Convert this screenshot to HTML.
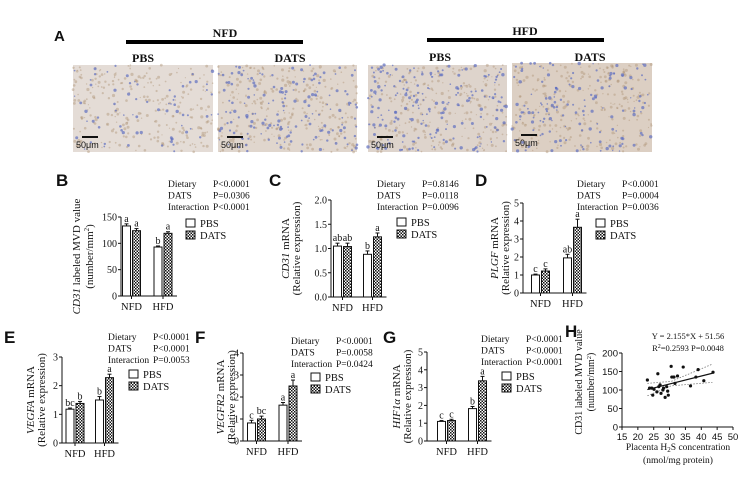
<!DOCTYPE html>
<html><head><meta charset="utf-8"><style>
body{margin:0;background:#fff;}
svg{display:block;}
text{font-family:"Liberation Serif",serif;fill:#111;}
.pl{font-family:"Liberation Sans",sans-serif;font-weight:bold;}
.sans{font-family:"Liberation Sans",sans-serif;}
</style></head><body>
<svg id="fig" width="753" height="478" viewBox="0 0 753 478" xmlns="http://www.w3.org/2000/svg">
<defs>
<pattern id="chk" width="3" height="3" patternUnits="userSpaceOnUse"><rect width="3" height="3" fill="#fff"/><rect width="1.5" height="1.5" fill="#111"/><rect x="1.5" y="1.5" width="1.5" height="1.5" fill="#111"/></pattern>
</defs>
<g id="panelA">
<text class="pl" x="54" y="41" font-size="15">A</text>
<text x="225" y="37" font-size="12" font-weight="bold" text-anchor="middle">NFD</text>
<rect x="126" y="40" width="177" height="4" fill="#000"/>
<text x="525" y="35" font-size="12" font-weight="bold" text-anchor="middle">HFD</text>
<rect x="427" y="38" width="177" height="4" fill="#000"/>
<text x="143" y="62" font-size="12" font-weight="bold" text-anchor="middle">PBS</text>
<text x="290" y="62" font-size="12" font-weight="bold" text-anchor="middle">DATS</text>
<text x="440" y="61" font-size="12" font-weight="bold" text-anchor="middle">PBS</text>
<text x="590" y="61" font-size="12" font-weight="bold" text-anchor="middle">DATS</text>
<g id="imgs"></g>
</g>
<g id="charts"></g>
</svg>
<script>
// ---- chart data ----
const groups = ["NFD", "HFD"];
const seriesNames = ["PBS", "DATS"];
const bVals = [133, 124, 93, 119];  const bErr = [4, 4, 2, 3];  const bLetters = ["a","a","b","a"];
const bTicks = [0, 50, 100, 150];
const cVals = [1.05, 1.04, 0.88, 1.24]; const cErr = [0.06, 0.07, 0.07, 0.08]; const cLetters = ["ab","ab","b","a"];
const cTicks = [0, 0.5, 1.0, 1.5, 2.0];
const dVals = [1.0, 1.22, 1.95, 3.65]; const dErr = [0.05, 0.12, 0.2, 0.45]; const dLetters = ["c","c","ab","a"];
const dTicks = [0, 1, 2, 3, 4, 5];
const eVals = [1.18, 1.38, 1.5, 2.28]; const eErr = [0.04, 0.07, 0.12, 0.12]; const eLetters = ["bc","b","b","a"];
const eTicks = [0, 1, 2, 3];
const fVals = [0.82, 1.0, 1.63, 2.5]; const fErr = [0.12, 0.13, 0.12, 0.27]; const fLetters = ["c","bc","a","a"];
const fTicks = [0, 1, 2, 3, 4];
const gVals = [1.1, 1.15, 1.82, 3.38]; const gErr = [0.05, 0.07, 0.12, 0.25]; const gLetters = ["c","c","b","a"];
const gTicks = [0, 1, 2, 3, 4, 5];
const bStats = ["P<0.0001","P=0.0306","P<0.0001"];
const cStats = ["P=0.8146","P=0.0118","P=0.0096"];
const dStats = ["P<0.0001","P=0.0004","P=0.0036"];
const eStats = ["P<0.0001","P<0.0001","P=0.0053"];
const fStats = ["P<0.0001","P=0.0058","P=0.0424"];
const gStats = ["P<0.0001","P<0.0001","P<0.0001"];
const hX = [23.0,23.7,24.4,24.7,25.1,26.0,26.3,26.6,27.0,27.3,27.9,28.1,28.6,29.1,29.6,29.4,30.5,30.7,31.2,31.7,31.4,32.5,34.3,36.6,38.3,39.0,40.8,43.7];
const hY = [127,105,105,86,102,95,144,109,114,91,100,105,80,109,86,97,164,135,135,118,135,138,162,111,135,155,125,148];
const hXTicks = [15,20,25,30,35,40,45,50];
const hYTicks = [0,50,100,150,200];
const hSlope = 2.155, hIntercept = 51.56;

const NS = "http://www.w3.org/2000/svg";
const charts = document.getElementById('charts');
function mk(tag, attrs, parent, txt){
  const e = document.createElementNS(NS, tag);
  for (const k in attrs) e.setAttribute(k, attrs[k]);
  if (txt !== undefined) e.textContent = txt;
  (parent || charts).appendChild(e);
  return e;
}

// ---- histology images (texture only) ----
const imgs = document.getElementById('imgs');
const imgBoxes = [[73,65,140,87,'#e4dcd6',70],[218,65,139,87,'#e0d6cd',160],[368,65,139,87,'#ded4cc',190],[512,63,140,89,'#dccfc3',150]];
let seed = 7;
function rnd(){ seed = (seed*1103515245 + 12345) % 2147483648; return seed/2147483648; }
imgBoxes.forEach((b,i)=>{
  const g = mk('g', {}, imgs);
  
  
  mk('rect', {x:b[0], y:b[1], width:b[2], height:b[3], fill:b[4]}, g);
  for (let k=0;k<260;k++){
    mk('circle',{cx:(b[0]+rnd()*b[2]).toFixed(1), cy:(b[1]+rnd()*b[3]).toFixed(1), r:(0.6+rnd()*1.0).toFixed(1), fill:'#b09478', opacity:0.45}, g);
  }
  for (let k=0;k<b[5];k++){
    mk('circle',{cx:(b[0]+rnd()*b[2]).toFixed(1), cy:(b[1]+rnd()*b[3]).toFixed(1), r:(0.7+rnd()*1.0).toFixed(1), fill:'#5f6fc0', opacity:0.7}, g);
  }
  mk('rect', {x:b[0]+9, y:b[1]+71, width:16, height:2, fill:'#111'}, g);
  const t = mk('text', {x:b[0]+3, y:b[1]+83, 'font-size':9, style:'font-family:Liberation Sans,sans-serif'}, g, '50μm');
  
  
});

// ---- bar panels ----
function barPanel(p){
  const g = mk('g', {});
  
  
  const yS = v => p.y0 - (v / p.max) * (p.y0 - p.yTop);
  const lab = mk('text', {class:'pl', x:p.lx, y:p.ly, 'font-size':17}, g, p.id.toUpperCase());
  
  
  mk('line', {x1:p.ax, y1:p.yTop, x2:p.ax, y2:p.y0, stroke:'#111', 'stroke-width':1}, g);
  mk('line', {x1:p.ax, y1:p.y0, x2:p.ax + p.g2 + 14, y2:p.y0, stroke:'#111', 'stroke-width':1}, g);
  p.ticks.forEach(t=>{
    mk('line', {x1:p.ax-3, y1:yS(t), x2:p.ax, y2:yS(t), stroke:'#111'}, g);
    const tl = mk('text', {x:p.ax-4, y:yS(t)+3.5, 'font-size':10, 'text-anchor':'end'}, g, p.fmt ? t.toFixed(1) : String(t));
    
    
  });
  [p.g1, p.g2].forEach((off, gi)=>{
    const cx = p.ax + off;
    mk('line', {x1:cx, y1:p.y0, x2:cx, y2:p.y0+3, stroke:'#111'}, g);
    const xl = mk('text', {x:cx, y:p.y0+14, 'font-size':10.5, 'text-anchor':'middle'}, g, groups[gi]);
    
    
    for (let s=0; s<2; s++){
      const idx = gi*2 + s;
      const v = p.vals[idx], e = p.err[idx];
      const x = s === 0 ? cx - 9 : cx + 1;
      const bar = mk('rect', {x:x, y:yS(v), width:8, height:p.y0 - yS(v), fill: s===0 ? '#fff' : 'url(#chk)', stroke:'#111', 'stroke-width':1}, g);
      
      
      mk('line', {x1:x+4, y1:yS(v), x2:x+4, y2:yS(v+e), stroke:'#111'}, g);
      mk('line', {x1:x+2, y1:yS(v+e), x2:x+6, y2:yS(v+e), stroke:'#111'}, g);
      const lt = mk('text', {x:x+4, y:yS(v+e)-2, 'font-size':10, 'text-anchor':'middle'}, g, p.letters[idx]);
      
      
    }
  });
  const t1 = mk('text', {x:0, y:0, 'font-size':11, 'text-anchor':'middle', transform:`translate(${p.t1x},${(p.yTop+p.y0)/2}) rotate(-90)`}, g);
  
  
  mk('tspan', {'font-style':'italic'}, t1, p.gene);
  mk('tspan', {}, t1, p.rest);
  const t2 = mk('text', {x:0, y:0, 'font-size':11, 'text-anchor':'middle', transform:`translate(${p.t2x},${(p.yTop+p.y0)/2}) rotate(-90)`}, g);
  
  
  if (p.sup){ mk('tspan', {}, t2, '(number/mm'); mk('tspan', {'font-size':7, dy:-4}, t2, '2'); mk('tspan', {dy:4}, t2, ')'); }
  else t2.textContent = '(Relative expression)';
  const names = ['Dietary','DATS','Interaction'];
  names.forEach((n,i)=>{
    const y = p.sy + i*11.5;
    const a = mk('text', {x:p.sx, y:y, 'font-size':9.5}, g, n);
    
    
    const b = mk('text', {x:p.sx+45, y:y, 'font-size':9.5}, g, p.stats[i]);
    
    
  });
  seriesNames.forEach((n,i)=>{
    const y = p.legy + i*12;
    const sw = mk('rect', {x:p.legx, y:y-4, width:9, height:8, fill: i===0 ? '#fff' : 'url(#chk)', stroke:'#111'}, g);
    
    
    const lt = mk('text', {x:p.legx+14, y:y+4, 'font-size':10.5}, g, n);
    
    
  });
}

barPanel({id:'b', vals:bVals, err:bErr, letters:bLetters, ticks:bTicks, max:150, ax:121, y0:296, yTop:217, g1:10.5, g2:42, lx:56, ly:186, t1x:80, t2x:93, gene:'CD31', rest:' labeled MVD value', sup:true, stats:bStats, sx:168, sy:187, legx:186, legy:223});
barPanel({id:'c', vals:cVals, err:cErr, letters:cLetters, ticks:cTicks, max:2.0, fmt:true, ax:331, y0:297, yTop:200, g1:11.5, g2:41.5, lx:269, ly:186, t1x:289, t2x:300, gene:'CD31', rest:' mRNA', stats:cStats, sx:377, sy:187, legx:397, legy:222});
barPanel({id:'d', vals:dVals, err:dErr, letters:dLetters, ticks:dTicks, max:5, ax:523, y0:293, yTop:203, g1:17.5, g2:49.5, lx:475, ly:186, t1x:498, t2x:509, gene:'PLGF', rest:' mRNA', stats:dStats, sx:577, sy:187, legx:596, legy:223});
barPanel({id:'e', vals:eVals, err:eErr, letters:eLetters, ticks:eTicks, max:3, ax:62, y0:443, yTop:357, g1:13, g2:42.5, lx:4, ly:343, t1x:34, t2x:45, gene:'VEGFA', rest:' mRNA', stats:eStats, sx:108, sy:340, legx:129, legy:374});
barPanel({id:'f', vals:fVals, err:fErr, letters:fLetters, ticks:fTicks, max:4, ax:243, y0:441, yTop:353, g1:13.5, g2:45, lx:195, ly:343, t1x:224, t2x:235, gene:'VEGFR2', rest:' mRNA', stats:fStats, sx:291, sy:344, legx:311, legy:377});
barPanel({id:'g', vals:gVals, err:gErr, letters:gLetters, ticks:gTicks, max:5, ax:427, y0:441, yTop:352, g1:19.5, g2:50.5, lx:383, ly:343, t1x:400, t2x:411, gene:'HIF1α', rest:' mRNA', stats:gStats, sx:481, sy:342, legx:502, legy:376});

// ---- panel H scatter ----
(function(){
  const g = mk('g', {});
  
  
  const ax = 622, y0 = 427, yTop = 353, xEnd = 733;
  const xS = v => ax + (v - 15) / 35 * (xEnd - ax);
  const yS = v => y0 - v / 200 * (y0 - yTop);
  const lab = mk('text', {class:'pl', x:565, y:337, 'font-size':17}, g, 'H');
  
  
  mk('line', {x1:ax, y1:yTop, x2:ax, y2:y0, stroke:'#111'}, g);
  mk('line', {x1:ax, y1:y0, x2:xEnd, y2:y0, stroke:'#111'}, g);
  hYTicks.forEach(t=>{
    mk('line', {x1:ax-3, y1:yS(t), x2:ax, y2:yS(t), stroke:'#111'}, g);
    const tl = mk('text', {class:'sans', x:ax-4, y:yS(t)+3.5, 'font-size':9.5, 'text-anchor':'end'}, g, String(t));
    
    
  });
  hXTicks.forEach(t=>{
    mk('line', {x1:xS(t), y1:y0, x2:xS(t), y2:y0+3, stroke:'#111'}, g);
    const tl = mk('text', {class:'sans', x:xS(t), y:y0+13, 'font-size':9.5, 'text-anchor':'middle'}, g, String(t));
    
    
  });
  const xa = 23, xb = 43.5, xm = 30.5;
  const ci = x => 6 + 0.9 * Math.abs(x - xm) * 1.6;
  const up = [], lo = [];
  for (let x = xa; x <= xb + 0.01; x += 0.5){
    const yv = hSlope*x + hIntercept;
    up.push(xS(x).toFixed(1) + ',' + yS(yv + ci(x)).toFixed(1));
    lo.push(xS(x).toFixed(1) + ',' + yS(yv - ci(x)).toFixed(1));
  }
  const cu = mk('polyline', {points:up.join(' '), fill:'none', stroke:'#777', 'stroke-width':0.8, 'stroke-dasharray':'1.5,1.5'}, g);
  
  
  const cl = mk('polyline', {points:lo.join(' '), fill:'none', stroke:'#777', 'stroke-width':0.8, 'stroke-dasharray':'1.5,1.5'}, g);
  
  
  const rl = mk('line', {x1:xS(xa), y1:yS(hSlope*xa+hIntercept), x2:xS(xb), y2:yS(hSlope*xb+hIntercept), stroke:'#111', 'stroke-width':1.2}, g);
  
  
  hX.forEach((x,i)=>{
    const c = mk('circle', {cx:xS(x), cy:yS(hY[i]), r:1.6, fill:'#111'}, g);
    
    
  });
  const eq = mk('text', {x:688, y:339, 'font-size':8.5, 'text-anchor':'middle'}, g, 'Y = 2.155*X + 51.56');
  
  
  const r2 = mk('text', {x:688, y:351, 'font-size':8.5, 'text-anchor':'middle'}, g);
  
  
  mk('tspan', {}, r2, 'R'); mk('tspan', {'font-size':6, dy:-3}, r2, '2'); mk('tspan', {dy:3}, r2, '=0.2593  P=0.0048');
  const t1 = mk('text', {x:0, y:0, 'font-size':10, 'text-anchor':'middle', transform:`translate(${582},${(yTop+y0)/2-8}) rotate(-90)`}, g, 'CD31 labeled MVD value');
  
  
  const t2 = mk('text', {x:0, y:0, 'font-size':10, 'text-anchor':'middle', transform:`translate(${594},${(yTop+y0)/2-8}) rotate(-90)`}, g);
  
  
  mk('tspan', {}, t2, '(number/mm'); mk('tspan', {'font-size':6.5, dy:-3}, t2, '2'); mk('tspan', {dy:3}, t2, ')');
  const x1 = mk('text', {x:678, y:450, 'font-size':9.5, 'text-anchor':'middle'}, g);
  
  
  mk('tspan', {}, x1, 'Placenta H'); mk('tspan', {'font-size':7, dy:2}, x1, '2'); mk('tspan', {dy:-2}, x1, 'S concentration');
  const x2 = mk('text', {x:678, y:463, 'font-size':9.5, 'text-anchor':'middle'}, g, '(nmol/mg protein)');
  
  
})();
</script>
</body></html>
